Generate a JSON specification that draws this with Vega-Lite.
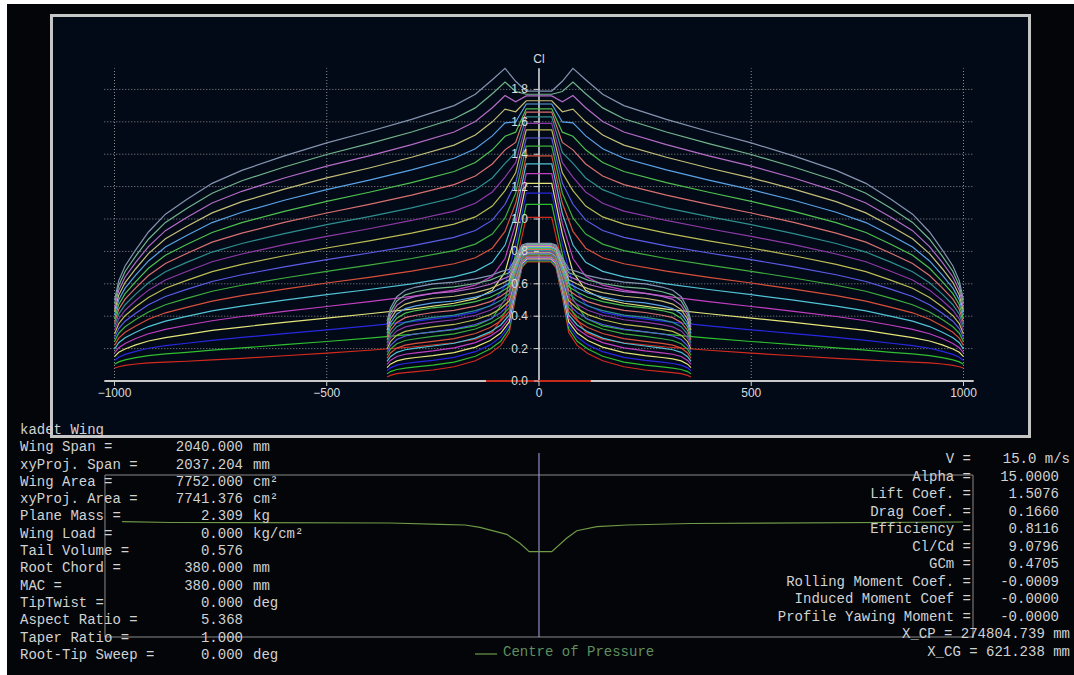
{
  "$schema": "https://vega.github.io/schema/vega-lite/v6.json",
  "width": 1067,
  "height": 671,
  "autosize": {"type": "none"},
  "padding": {"left": 7, "top": 4, "right": 0, "bottom": 0},
  "background": "#ffffff",
  "config": {"view": {"fill": "#030508", "stroke": null}},
  "datasets": {
    "wing": [
      {"x":-1000,"op0":0.08,"op1":0.103,"op2":0.127,"op3":0.15,"op4":0.173,"op5":0.197,"op6":0.22,"op7":0.243,"op8":0.267,"op9":0.29,"op10":0.313,"op11":0.337,"op12":0.36,"op13":0.383,"op14":0.407,"op15":0.43,"op16":0.453,"op17":0.477,"op18":0.5},
      {"x":-990,"op0":0.088,"op1":0.118,"op2":0.147,"op3":0.177,"op4":0.206,"op5":0.236,"op6":0.265,"op7":0.295,"op8":0.324,"op9":0.354,"op10":0.384,"op11":0.413,"op12":0.443,"op13":0.472,"op14":0.502,"op15":0.531,"op16":0.561,"op17":0.59,"op18":0.62},
      {"x":-975,"op0":0.096,"op1":0.13,"op2":0.164,"op3":0.198,"op4":0.232,"op5":0.267,"op6":0.301,"op7":0.335,"op8":0.369,"op9":0.403,"op10":0.437,"op11":0.471,"op12":0.505,"op13":0.539,"op14":0.573,"op15":0.608,"op16":0.642,"op17":0.676,"op18":0.71},
      {"x":-950,"op0":0.105,"op1":0.144,"op2":0.183,"op3":0.223,"op4":0.262,"op5":0.301,"op6":0.34,"op7":0.379,"op8":0.418,"op9":0.458,"op10":0.497,"op11":0.536,"op12":0.575,"op13":0.614,"op14":0.653,"op15":0.693,"op16":0.732,"op17":0.771,"op18":0.81},
      {"x":-920,"op0":0.112,"op1":0.157,"op2":0.202,"op3":0.247,"op4":0.292,"op5":0.336,"op6":0.381,"op7":0.426,"op8":0.471,"op9":0.516,"op10":0.561,"op11":0.606,"op12":0.651,"op13":0.696,"op14":0.741,"op15":0.786,"op16":0.83,"op17":0.875,"op18":0.92},
      {"x":-880,"op0":0.116,"op1":0.167,"op2":0.218,"op3":0.268,"op4":0.319,"op5":0.37,"op6":0.421,"op7":0.471,"op8":0.522,"op9":0.573,"op10":0.624,"op11":0.675,"op12":0.725,"op13":0.776,"op14":0.827,"op15":0.878,"op16":0.928,"op17":0.979,"op18":1.03},
      {"x":-830,"op0":0.122,"op1":0.177,"op2":0.233,"op3":0.288,"op4":0.344,"op5":0.399,"op6":0.455,"op7":0.51,"op8":0.566,"op9":0.621,"op10":0.676,"op11":0.732,"op12":0.787,"op13":0.843,"op14":0.898,"op15":0.954,"op16":1.009,"op17":1.065,"op18":1.12},
      {"x":-770,"op0":0.13,"op1":0.191,"op2":0.251,"op3":0.312,"op4":0.372,"op5":0.433,"op6":0.493,"op7":0.554,"op8":0.614,"op9":0.675,"op10":0.736,"op11":0.796,"op12":0.857,"op13":0.917,"op14":0.978,"op15":1.038,"op16":1.099,"op17":1.159,"op18":1.22},
      {"x":-700,"op0":0.14,"op1":0.204,"op2":0.269,"op3":0.333,"op4":0.398,"op5":0.462,"op6":0.527,"op7":0.591,"op8":0.656,"op9":0.72,"op10":0.784,"op11":0.849,"op12":0.913,"op13":0.978,"op14":1.042,"op15":1.107,"op16":1.171,"op17":1.236,"op18":1.3},
      {"x":-600,"op0":0.156,"op1":0.225,"op2":0.293,"op3":0.362,"op4":0.43,"op5":0.499,"op6":0.567,"op7":0.636,"op8":0.704,"op9":0.773,"op10":0.842,"op11":0.91,"op12":0.979,"op13":1.047,"op14":1.116,"op15":1.184,"op16":1.253,"op17":1.321,"op18":1.39},
      {"x":-500,"op0":0.172,"op1":0.244,"op2":0.316,"op3":0.388,"op4":0.46,"op5":0.533,"op6":0.605,"op7":0.677,"op8":0.749,"op9":0.821,"op10":0.893,"op11":0.965,"op12":1.037,"op13":1.109,"op14":1.181,"op15":1.254,"op16":1.326,"op17":1.398,"op18":1.47},
      {"x":-400,"op0":0.19,"op1":0.265,"op2":0.34,"op3":0.415,"op4":0.49,"op5":0.565,"op6":0.64,"op7":0.715,"op8":0.79,"op9":0.865,"op10":0.94,"op11":1.015,"op12":1.09,"op13":1.165,"op14":1.24,"op15":1.315,"op16":1.39,"op17":1.465,"op18":1.54},
      {"x":-300,"op0":0.21,"op1":0.288,"op2":0.366,"op3":0.444,"op4":0.522,"op5":0.6,"op6":0.678,"op7":0.756,"op8":0.834,"op9":0.913,"op10":0.991,"op11":1.069,"op12":1.147,"op13":1.225,"op14":1.303,"op15":1.381,"op16":1.459,"op17":1.537,"op18":1.615},
      {"x":-200,"op0":0.236,"op1":0.317,"op2":0.399,"op3":0.48,"op4":0.561,"op5":0.643,"op6":0.724,"op7":0.805,"op8":0.887,"op9":0.968,"op10":1.049,"op11":1.131,"op12":1.212,"op13":1.293,"op14":1.375,"op15":1.456,"op16":1.537,"op17":1.619,"op18":1.7},
      {"x":-150,"op0":0.256,"op1":0.34,"op2":0.424,"op3":0.508,"op4":0.592,"op5":0.677,"op6":0.761,"op7":0.845,"op8":0.929,"op9":1.013,"op10":1.097,"op11":1.181,"op12":1.265,"op13":1.349,"op14":1.434,"op15":1.518,"op16":1.602,"op17":1.686,"op18":1.77},
      {"x":-110,"op0":0.3,"op1":0.387,"op2":0.473,"op3":0.56,"op4":0.647,"op5":0.733,"op6":0.82,"op7":0.907,"op8":0.993,"op9":1.08,"op10":1.167,"op11":1.253,"op12":1.34,"op13":1.427,"op14":1.513,"op15":1.6,"op16":1.687,"op17":1.773,"op18":1.86},
      {"x":-80,"op0":0.42,"op1":0.504,"op2":0.588,"op3":0.672,"op4":0.756,"op5":0.839,"op6":0.923,"op7":1.007,"op8":1.091,"op9":1.175,"op10":1.259,"op11":1.343,"op12":1.427,"op13":1.511,"op14":1.594,"op15":1.678,"op16":1.762,"op17":1.846,"op18":1.93},
      {"x":-55,"op0":0.72,"op1":0.783,"op2":0.846,"op3":0.908,"op4":0.971,"op5":1.034,"op6":1.097,"op7":1.159,"op8":1.222,"op9":1.285,"op10":1.348,"op11":1.411,"op12":1.473,"op13":1.536,"op14":1.599,"op15":1.662,"op16":1.724,"op17":1.787,"op18":1.85},
      {"x":-30,"op0":1.01,"op1":1.09,"op2":1.16,"op3":1.22,"op4":1.28,"op5":1.34,"op6":1.39,"op7":1.45,"op8":1.5,"op9":1.55,"op10":1.59,"op11":1.63,"op12":1.66,"op13":1.68,"op14":1.71,"op15":1.73,"op16":1.76,"op17":1.77,"op18":1.79},
      {"x":30,"op0":1.01,"op1":1.09,"op2":1.16,"op3":1.22,"op4":1.28,"op5":1.34,"op6":1.39,"op7":1.45,"op8":1.5,"op9":1.55,"op10":1.59,"op11":1.63,"op12":1.66,"op13":1.68,"op14":1.71,"op15":1.73,"op16":1.76,"op17":1.77,"op18":1.79},
      {"x":55,"op0":0.72,"op1":0.783,"op2":0.846,"op3":0.908,"op4":0.971,"op5":1.034,"op6":1.097,"op7":1.159,"op8":1.222,"op9":1.285,"op10":1.348,"op11":1.411,"op12":1.473,"op13":1.536,"op14":1.599,"op15":1.662,"op16":1.724,"op17":1.787,"op18":1.85},
      {"x":80,"op0":0.42,"op1":0.504,"op2":0.588,"op3":0.672,"op4":0.756,"op5":0.839,"op6":0.923,"op7":1.007,"op8":1.091,"op9":1.175,"op10":1.259,"op11":1.343,"op12":1.427,"op13":1.511,"op14":1.594,"op15":1.678,"op16":1.762,"op17":1.846,"op18":1.93},
      {"x":110,"op0":0.3,"op1":0.387,"op2":0.473,"op3":0.56,"op4":0.647,"op5":0.733,"op6":0.82,"op7":0.907,"op8":0.993,"op9":1.08,"op10":1.167,"op11":1.253,"op12":1.34,"op13":1.427,"op14":1.513,"op15":1.6,"op16":1.687,"op17":1.773,"op18":1.86},
      {"x":150,"op0":0.256,"op1":0.34,"op2":0.424,"op3":0.508,"op4":0.592,"op5":0.677,"op6":0.761,"op7":0.845,"op8":0.929,"op9":1.013,"op10":1.097,"op11":1.181,"op12":1.265,"op13":1.349,"op14":1.434,"op15":1.518,"op16":1.602,"op17":1.686,"op18":1.77},
      {"x":200,"op0":0.236,"op1":0.317,"op2":0.399,"op3":0.48,"op4":0.561,"op5":0.643,"op6":0.724,"op7":0.805,"op8":0.887,"op9":0.968,"op10":1.049,"op11":1.131,"op12":1.212,"op13":1.293,"op14":1.375,"op15":1.456,"op16":1.537,"op17":1.619,"op18":1.7},
      {"x":300,"op0":0.21,"op1":0.288,"op2":0.366,"op3":0.444,"op4":0.522,"op5":0.6,"op6":0.678,"op7":0.756,"op8":0.834,"op9":0.913,"op10":0.991,"op11":1.069,"op12":1.147,"op13":1.225,"op14":1.303,"op15":1.381,"op16":1.459,"op17":1.537,"op18":1.615},
      {"x":400,"op0":0.19,"op1":0.265,"op2":0.34,"op3":0.415,"op4":0.49,"op5":0.565,"op6":0.64,"op7":0.715,"op8":0.79,"op9":0.865,"op10":0.94,"op11":1.015,"op12":1.09,"op13":1.165,"op14":1.24,"op15":1.315,"op16":1.39,"op17":1.465,"op18":1.54},
      {"x":500,"op0":0.172,"op1":0.244,"op2":0.316,"op3":0.388,"op4":0.46,"op5":0.533,"op6":0.605,"op7":0.677,"op8":0.749,"op9":0.821,"op10":0.893,"op11":0.965,"op12":1.037,"op13":1.109,"op14":1.181,"op15":1.254,"op16":1.326,"op17":1.398,"op18":1.47},
      {"x":600,"op0":0.156,"op1":0.225,"op2":0.293,"op3":0.362,"op4":0.43,"op5":0.499,"op6":0.567,"op7":0.636,"op8":0.704,"op9":0.773,"op10":0.842,"op11":0.91,"op12":0.979,"op13":1.047,"op14":1.116,"op15":1.184,"op16":1.253,"op17":1.321,"op18":1.39},
      {"x":700,"op0":0.14,"op1":0.204,"op2":0.269,"op3":0.333,"op4":0.398,"op5":0.462,"op6":0.527,"op7":0.591,"op8":0.656,"op9":0.72,"op10":0.784,"op11":0.849,"op12":0.913,"op13":0.978,"op14":1.042,"op15":1.107,"op16":1.171,"op17":1.236,"op18":1.3},
      {"x":770,"op0":0.13,"op1":0.191,"op2":0.251,"op3":0.312,"op4":0.372,"op5":0.433,"op6":0.493,"op7":0.554,"op8":0.614,"op9":0.675,"op10":0.736,"op11":0.796,"op12":0.857,"op13":0.917,"op14":0.978,"op15":1.038,"op16":1.099,"op17":1.159,"op18":1.22},
      {"x":830,"op0":0.122,"op1":0.177,"op2":0.233,"op3":0.288,"op4":0.344,"op5":0.399,"op6":0.455,"op7":0.51,"op8":0.566,"op9":0.621,"op10":0.676,"op11":0.732,"op12":0.787,"op13":0.843,"op14":0.898,"op15":0.954,"op16":1.009,"op17":1.065,"op18":1.12},
      {"x":880,"op0":0.116,"op1":0.167,"op2":0.218,"op3":0.268,"op4":0.319,"op5":0.37,"op6":0.421,"op7":0.471,"op8":0.522,"op9":0.573,"op10":0.624,"op11":0.675,"op12":0.725,"op13":0.776,"op14":0.827,"op15":0.878,"op16":0.928,"op17":0.979,"op18":1.03},
      {"x":920,"op0":0.112,"op1":0.157,"op2":0.202,"op3":0.247,"op4":0.292,"op5":0.336,"op6":0.381,"op7":0.426,"op8":0.471,"op9":0.516,"op10":0.561,"op11":0.606,"op12":0.651,"op13":0.696,"op14":0.741,"op15":0.786,"op16":0.83,"op17":0.875,"op18":0.92},
      {"x":950,"op0":0.105,"op1":0.144,"op2":0.183,"op3":0.223,"op4":0.262,"op5":0.301,"op6":0.34,"op7":0.379,"op8":0.418,"op9":0.458,"op10":0.497,"op11":0.536,"op12":0.575,"op13":0.614,"op14":0.653,"op15":0.693,"op16":0.732,"op17":0.771,"op18":0.81},
      {"x":975,"op0":0.096,"op1":0.13,"op2":0.164,"op3":0.198,"op4":0.232,"op5":0.267,"op6":0.301,"op7":0.335,"op8":0.369,"op9":0.403,"op10":0.437,"op11":0.471,"op12":0.505,"op13":0.539,"op14":0.573,"op15":0.608,"op16":0.642,"op17":0.676,"op18":0.71},
      {"x":990,"op0":0.088,"op1":0.118,"op2":0.147,"op3":0.177,"op4":0.206,"op5":0.236,"op6":0.265,"op7":0.295,"op8":0.324,"op9":0.354,"op10":0.384,"op11":0.413,"op12":0.443,"op13":0.472,"op14":0.502,"op15":0.531,"op16":0.561,"op17":0.59,"op18":0.62},
      {"x":1000,"op0":0.08,"op1":0.103,"op2":0.127,"op3":0.15,"op4":0.173,"op5":0.197,"op6":0.22,"op7":0.243,"op8":0.267,"op9":0.29,"op10":0.313,"op11":0.337,"op12":0.36,"op13":0.383,"op14":0.407,"op15":0.43,"op16":0.453,"op17":0.477,"op18":0.5}
    ],
    "tail": [
      {"x":-358,"op0":0.025,"op1":0.044,"op2":0.063,"op3":0.083,"op4":0.102,"op5":0.121,"op6":0.14,"op7":0.159,"op8":0.178,"op9":0.198,"op10":0.217,"op11":0.236,"op12":0.255,"op13":0.274,"op14":0.293,"op15":0.313,"op16":0.332,"op17":0.351,"op18":0.37},
      {"x":-350,"op0":0.035,"op1":0.058,"op2":0.081,"op3":0.104,"op4":0.127,"op5":0.15,"op6":0.173,"op7":0.196,"op8":0.219,"op9":0.243,"op10":0.266,"op11":0.289,"op12":0.312,"op13":0.335,"op14":0.358,"op15":0.381,"op16":0.404,"op17":0.427,"op18":0.45},
      {"x":-335,"op0":0.045,"op1":0.071,"op2":0.098,"op3":0.124,"op4":0.151,"op5":0.177,"op6":0.203,"op7":0.23,"op8":0.256,"op9":0.283,"op10":0.309,"op11":0.335,"op12":0.362,"op13":0.388,"op14":0.414,"op15":0.441,"op16":0.467,"op17":0.494,"op18":0.52},
      {"x":-315,"op0":0.052,"op1":0.08,"op2":0.108,"op3":0.137,"op4":0.165,"op5":0.193,"op6":0.221,"op7":0.25,"op8":0.278,"op9":0.306,"op10":0.334,"op11":0.362,"op12":0.391,"op13":0.419,"op14":0.447,"op15":0.475,"op16":0.504,"op17":0.532,"op18":0.56},
      {"x":-290,"op0":0.058,"op1":0.087,"op2":0.116,"op3":0.145,"op4":0.174,"op5":0.203,"op6":0.232,"op7":0.261,"op8":0.29,"op9":0.319,"op10":0.348,"op11":0.377,"op12":0.406,"op13":0.435,"op14":0.464,"op15":0.493,"op16":0.522,"op17":0.551,"op18":0.58},
      {"x":-250,"op0":0.068,"op1":0.098,"op2":0.127,"op3":0.157,"op4":0.186,"op5":0.216,"op6":0.245,"op7":0.275,"op8":0.304,"op9":0.334,"op10":0.364,"op11":0.393,"op12":0.423,"op13":0.452,"op14":0.482,"op15":0.511,"op16":0.541,"op17":0.57,"op18":0.6},
      {"x":-200,"op0":0.088,"op1":0.117,"op2":0.146,"op3":0.175,"op4":0.204,"op5":0.233,"op6":0.262,"op7":0.291,"op8":0.32,"op9":0.349,"op10":0.378,"op11":0.407,"op12":0.436,"op13":0.465,"op14":0.494,"op15":0.523,"op16":0.552,"op17":0.581,"op18":0.61},
      {"x":-150,"op0":0.125,"op1":0.153,"op2":0.181,"op3":0.209,"op4":0.237,"op5":0.265,"op6":0.293,"op7":0.321,"op8":0.349,"op9":0.378,"op10":0.406,"op11":0.434,"op12":0.462,"op13":0.49,"op14":0.518,"op15":0.546,"op16":0.574,"op17":0.602,"op18":0.63},
      {"x":-115,"op0":0.17,"op1":0.197,"op2":0.223,"op3":0.25,"op4":0.277,"op5":0.303,"op6":0.33,"op7":0.357,"op8":0.383,"op9":0.41,"op10":0.437,"op11":0.463,"op12":0.49,"op13":0.517,"op14":0.543,"op15":0.57,"op16":0.597,"op17":0.623,"op18":0.65},
      {"x":-90,"op0":0.22,"op1":0.245,"op2":0.271,"op3":0.296,"op4":0.321,"op5":0.346,"op6":0.372,"op7":0.397,"op8":0.422,"op9":0.448,"op10":0.473,"op11":0.498,"op12":0.523,"op13":0.549,"op14":0.574,"op15":0.599,"op16":0.624,"op17":0.65,"op18":0.675},
      {"x":-70,"op0":0.3,"op1":0.322,"op2":0.343,"op3":0.365,"op4":0.387,"op5":0.408,"op6":0.43,"op7":0.452,"op8":0.473,"op9":0.495,"op10":0.517,"op11":0.538,"op12":0.56,"op13":0.582,"op14":0.603,"op15":0.625,"op16":0.647,"op17":0.668,"op18":0.69},
      {"x":-55,"op0":0.52,"op1":0.533,"op2":0.547,"op3":0.56,"op4":0.573,"op5":0.587,"op6":0.6,"op7":0.613,"op8":0.627,"op9":0.64,"op10":0.653,"op11":0.667,"op12":0.68,"op13":0.693,"op14":0.707,"op15":0.72,"op16":0.733,"op17":0.747,"op18":0.76},
      {"x":-40,"op0":0.7,"op1":0.708,"op2":0.716,"op3":0.723,"op4":0.731,"op5":0.739,"op6":0.747,"op7":0.754,"op8":0.762,"op9":0.77,"op10":0.778,"op11":0.786,"op12":0.793,"op13":0.801,"op14":0.809,"op15":0.817,"op16":0.824,"op17":0.832,"op18":0.84},
      {"x":-28,"op0":0.735,"op1":0.741,"op2":0.748,"op3":0.754,"op4":0.761,"op5":0.767,"op6":0.773,"op7":0.78,"op8":0.786,"op9":0.793,"op10":0.799,"op11":0.805,"op12":0.812,"op13":0.818,"op14":0.825,"op15":0.831,"op16":0.837,"op17":0.844,"op18":0.85},
      {"x":28,"op0":0.735,"op1":0.741,"op2":0.748,"op3":0.754,"op4":0.761,"op5":0.767,"op6":0.773,"op7":0.78,"op8":0.786,"op9":0.793,"op10":0.799,"op11":0.805,"op12":0.812,"op13":0.818,"op14":0.825,"op15":0.831,"op16":0.837,"op17":0.844,"op18":0.85},
      {"x":40,"op0":0.7,"op1":0.708,"op2":0.716,"op3":0.723,"op4":0.731,"op5":0.739,"op6":0.747,"op7":0.754,"op8":0.762,"op9":0.77,"op10":0.778,"op11":0.786,"op12":0.793,"op13":0.801,"op14":0.809,"op15":0.817,"op16":0.824,"op17":0.832,"op18":0.84},
      {"x":55,"op0":0.52,"op1":0.533,"op2":0.547,"op3":0.56,"op4":0.573,"op5":0.587,"op6":0.6,"op7":0.613,"op8":0.627,"op9":0.64,"op10":0.653,"op11":0.667,"op12":0.68,"op13":0.693,"op14":0.707,"op15":0.72,"op16":0.733,"op17":0.747,"op18":0.76},
      {"x":70,"op0":0.3,"op1":0.322,"op2":0.343,"op3":0.365,"op4":0.387,"op5":0.408,"op6":0.43,"op7":0.452,"op8":0.473,"op9":0.495,"op10":0.517,"op11":0.538,"op12":0.56,"op13":0.582,"op14":0.603,"op15":0.625,"op16":0.647,"op17":0.668,"op18":0.69},
      {"x":90,"op0":0.22,"op1":0.245,"op2":0.271,"op3":0.296,"op4":0.321,"op5":0.346,"op6":0.372,"op7":0.397,"op8":0.422,"op9":0.448,"op10":0.473,"op11":0.498,"op12":0.523,"op13":0.549,"op14":0.574,"op15":0.599,"op16":0.624,"op17":0.65,"op18":0.675},
      {"x":115,"op0":0.17,"op1":0.197,"op2":0.223,"op3":0.25,"op4":0.277,"op5":0.303,"op6":0.33,"op7":0.357,"op8":0.383,"op9":0.41,"op10":0.437,"op11":0.463,"op12":0.49,"op13":0.517,"op14":0.543,"op15":0.57,"op16":0.597,"op17":0.623,"op18":0.65},
      {"x":150,"op0":0.125,"op1":0.153,"op2":0.181,"op3":0.209,"op4":0.237,"op5":0.265,"op6":0.293,"op7":0.321,"op8":0.349,"op9":0.378,"op10":0.406,"op11":0.434,"op12":0.462,"op13":0.49,"op14":0.518,"op15":0.546,"op16":0.574,"op17":0.602,"op18":0.63},
      {"x":200,"op0":0.088,"op1":0.117,"op2":0.146,"op3":0.175,"op4":0.204,"op5":0.233,"op6":0.262,"op7":0.291,"op8":0.32,"op9":0.349,"op10":0.378,"op11":0.407,"op12":0.436,"op13":0.465,"op14":0.494,"op15":0.523,"op16":0.552,"op17":0.581,"op18":0.61},
      {"x":250,"op0":0.068,"op1":0.098,"op2":0.127,"op3":0.157,"op4":0.186,"op5":0.216,"op6":0.245,"op7":0.275,"op8":0.304,"op9":0.334,"op10":0.364,"op11":0.393,"op12":0.423,"op13":0.452,"op14":0.482,"op15":0.511,"op16":0.541,"op17":0.57,"op18":0.6},
      {"x":290,"op0":0.058,"op1":0.087,"op2":0.116,"op3":0.145,"op4":0.174,"op5":0.203,"op6":0.232,"op7":0.261,"op8":0.29,"op9":0.319,"op10":0.348,"op11":0.377,"op12":0.406,"op13":0.435,"op14":0.464,"op15":0.493,"op16":0.522,"op17":0.551,"op18":0.58},
      {"x":315,"op0":0.052,"op1":0.08,"op2":0.108,"op3":0.137,"op4":0.165,"op5":0.193,"op6":0.221,"op7":0.25,"op8":0.278,"op9":0.306,"op10":0.334,"op11":0.362,"op12":0.391,"op13":0.419,"op14":0.447,"op15":0.475,"op16":0.504,"op17":0.532,"op18":0.56},
      {"x":335,"op0":0.045,"op1":0.071,"op2":0.098,"op3":0.124,"op4":0.151,"op5":0.177,"op6":0.203,"op7":0.23,"op8":0.256,"op9":0.283,"op10":0.309,"op11":0.335,"op12":0.362,"op13":0.388,"op14":0.414,"op15":0.441,"op16":0.467,"op17":0.494,"op18":0.52},
      {"x":350,"op0":0.035,"op1":0.058,"op2":0.081,"op3":0.104,"op4":0.127,"op5":0.15,"op6":0.173,"op7":0.196,"op8":0.219,"op9":0.243,"op10":0.266,"op11":0.289,"op12":0.312,"op13":0.335,"op14":0.358,"op15":0.381,"op16":0.404,"op17":0.427,"op18":0.45},
      {"x":358,"op0":0.025,"op1":0.044,"op2":0.063,"op3":0.083,"op4":0.102,"op5":0.121,"op6":0.14,"op7":0.159,"op8":0.178,"op9":0.198,"op10":0.217,"op11":0.236,"op12":0.255,"op13":0.274,"op14":0.293,"op15":0.313,"op16":0.332,"op17":0.351,"op18":0.37}
    ],
    "fin": [{"x": -125, "cl": 0}, {"x": 122, "cl": 0}],
    "hgrid": [{"cl": 0.2}, {"cl": 0.4}, {"cl": 0.6}, {"cl": 0.8}, {"cl": 1.0}, {"cl": 1.2}, {"cl": 1.4}, {"cl": 1.6}, {"cl": 1.8}],
    "vgrid": [{"x": -1000}, {"x": -500}, {"x": 500}, {"x": 1000}],
    "yticks": [{"cl": 0}, {"cl": 0.2}, {"cl": 0.4}, {"cl": 0.6}, {"cl": 0.8}, {"cl": 1.0}, {"cl": 1.2}, {"cl": 1.4}, {"cl": 1.6}, {"cl": 1.8}],
    "xticks": [{"x": -1000}, {"x": -500}, {"x": 0}, {"x": 500}, {"x": 1000}],
    "cop": [
      {"x": -982, "xcp": 93.4}, {"x": -865, "xcp": 95}, {"x": -351, "xcp": 96}, {"x": -233, "xcp": 98.6},
      {"x": -174, "xcp": 100}, {"x": -139, "xcp": 104.6}, {"x": -76, "xcp": 118.6}, {"x": -45, "xcp": 136.6},
      {"x": -23, "xcp": 153.4}, {"x": 30, "xcp": 153.4}, {"x": 65, "xcp": 126.6}, {"x": 89, "xcp": 111.4},
      {"x": 136, "xcp": 103.4}, {"x": 207, "xcp": 100}, {"x": 356, "xcp": 97}, {"x": 999, "xcp": 94}
    ],
    "wingInfo": [
      {"row": 0, "label": "kadet Wing", "value": "", "unit": ""},
      {"row": 1, "label": "Wing Span =", "value": "2040.000", "unit": "mm"},
      {"row": 2, "label": "xyProj. Span =", "value": "2037.204", "unit": "mm"},
      {"row": 3, "label": "Wing Area =", "value": "7752.000", "unit": "cm²"},
      {"row": 4, "label": "xyProj. Area =", "value": "7741.376", "unit": "cm²"},
      {"row": 5, "label": "Plane Mass =", "value": "2.309", "unit": "kg"},
      {"row": 6, "label": "Wing Load =", "value": "0.000", "unit": "kg/cm²"},
      {"row": 7, "label": "Tail Volume =", "value": "0.576", "unit": ""},
      {"row": 8, "label": "Root Chord =", "value": "380.000", "unit": "mm"},
      {"row": 9, "label": "MAC =", "value": "380.000", "unit": "mm"},
      {"row": 10, "label": "TipTwist =", "value": "0.000", "unit": "deg"},
      {"row": 11, "label": "Aspect Ratio =", "value": "5.368", "unit": ""},
      {"row": 12, "label": "Taper Ratio =", "value": "1.000", "unit": ""},
      {"row": 13, "label": "Root-Tip Sweep =", "value": "0.000", "unit": "deg"}
    ],
    "polarInfo": [
      {"row": 0, "label": "V =", "value": "", "full": "15.0 m/s"},
      {"row": 1, "label": "Alpha =", "value": "15.0000", "full": ""},
      {"row": 2, "label": "Lift Coef. =", "value": "1.5076", "full": ""},
      {"row": 3, "label": "Drag Coef. =", "value": "0.1660", "full": ""},
      {"row": 4, "label": "Efficiency =", "value": "0.8116", "full": ""},
      {"row": 5, "label": "Cl/Cd =", "value": "9.0796", "full": ""},
      {"row": 6, "label": "GCm =", "value": "0.4705", "full": ""},
      {"row": 7, "label": "Rolling Moment Coef. =", "value": "-0.0009", "full": ""},
      {"row": 8, "label": "Induced Moment Coef =", "value": "-0.0000", "full": ""},
      {"row": 9, "label": "Profile Yawing Moment =", "value": "-0.0000", "full": ""},
      {"row": 10, "label": "", "value": "", "full": "X_CP = 274804.739 mm"},
      {"row": 11, "label": "", "value": "", "full": "X_CG = 621.238 mm"}
    ]
  },
  "resolve": {"scale": {"x": "independent", "y": "independent", "color": "independent"}},
  "layer": [
    {
      "layer": [
        {
          "data": {"values": [{}]},
          "mark": {"type": "rect", "fill": "#030a17", "stroke": "#c6c6c6", "strokeWidth": 3},
          "encoding": {
            "x": {"datum": -1148.4, "type": "quantitative", "scale": {"domain": [-1253.2, 1260.3], "nice": false, "zero": false}, "axis": null},
            "x2": {"datum": 1155.5},
            "y": {"datum": 2.256, "type": "quantitative", "scale": {"domain": [-1.8148, 2.3272], "nice": false, "zero": false}, "axis": null},
            "y2": {"datum": -0.3426}
          }
        },
        {
          "data": {"name": "hgrid"},
          "mark": {"type": "rule", "color": "#8e8e8e", "strokeDash": [1, 2], "strokeWidth": 1},
          "encoding": {
            "x": {"datum": -1024, "type": "quantitative", "scale": {"domain": [-1253.2, 1260.3], "nice": false, "zero": false}, "axis": null},
            "x2": {"datum": 1024},
            "y": {"field": "cl", "type": "quantitative", "scale": {"domain": [-1.8148, 2.3272], "nice": false, "zero": false}, "axis": null}
          }
        },
        {
          "data": {"name": "vgrid"},
          "mark": {"type": "rule", "color": "#8e8e8e", "strokeDash": [1, 2], "strokeWidth": 1},
          "encoding": {
            "x": {"field": "x", "type": "quantitative", "scale": {"domain": [-1253.2, 1260.3], "nice": false, "zero": false}, "axis": null},
            "y": {"datum": 0, "type": "quantitative", "scale": {"domain": [-1.8148, 2.3272], "nice": false, "zero": false}, "axis": null},
            "y2": {"datum": 1.93}
          }
        },
        {
          "data": {"values": [{}]},
          "mark": {"type": "rule", "color": "#c8c8c8", "strokeWidth": 2},
          "encoding": {
            "x": {"datum": -1024, "type": "quantitative", "scale": {"domain": [-1253.2, 1260.3], "nice": false, "zero": false}, "axis": null},
            "x2": {"datum": 1024},
            "y": {"datum": 0, "type": "quantitative", "scale": {"domain": [-1.8148, 2.3272], "nice": false, "zero": false}, "axis": null}
          }
        },
        {
          "data": {"values": [{}]},
          "mark": {"type": "rule", "color": "#e2e2e2", "strokeWidth": 1.5},
          "encoding": {
            "x": {"datum": 0, "type": "quantitative", "scale": {"domain": [-1253.2, 1260.3], "nice": false, "zero": false}, "axis": null},
            "y": {"datum": 0, "type": "quantitative", "scale": {"domain": [-1.8148, 2.3272], "nice": false, "zero": false}, "axis": null},
            "y2": {"datum": 1.93}
          }
        },
        {
          "data": {"name": "wing"},
          "transform": [{"fold": ["op0","op1","op2","op3","op4","op5","op6","op7","op8","op9","op10","op11","op12","op13","op14","op15","op16","op17","op18"], "as": ["op", "cl"]}],
          "mark": {"type": "line", "strokeWidth": 1.2},
          "encoding": {
            "x": {"field": "x", "type": "quantitative", "scale": {"domain": [-1253.2, 1260.3], "nice": false, "zero": false}, "axis": null},
            "y": {"field": "cl", "type": "quantitative", "scale": {"domain": [-1.8148, 2.3272], "nice": false, "zero": false}, "axis": null},
            "color": {"field": "op", "type": "nominal", "legend": null,
                      "scale": {"domain": ["op0","op1","op2","op3","op4","op5","op6","op7","op8","op9","op10","op11","op12","op13","op14","op15","op16","op17","op18"],
                                "range": ["#d42a1e","#2fbf2f","#2828e0","#e4e47a","#c23fc2","#52c3d6","#d8503c","#3fae3f","#5c5ce8","#bcbc55","#8e3aa6","#2f8f8f","#d87070","#50c050","#5aa2e6","#c4bd78","#b46cc6","#72b48c","#8494b0"]}}
          }
        },
        {
          "data": {"name": "tail"},
          "transform": [{"fold": ["op0","op1","op2","op3","op4","op5","op6","op7","op8","op9","op10","op11","op12","op13","op14","op15","op16","op17","op18"], "as": ["op", "cl"]}],
          "mark": {"type": "line", "strokeWidth": 1.2},
          "encoding": {
            "x": {"field": "x", "type": "quantitative", "scale": {"domain": [-1253.2, 1260.3], "nice": false, "zero": false}, "axis": null},
            "y": {"field": "cl", "type": "quantitative", "scale": {"domain": [-1.8148, 2.3272], "nice": false, "zero": false}, "axis": null},
            "color": {"field": "op", "type": "nominal", "legend": null}
          }
        },
        {
          "data": {"name": "fin"},
          "mark": {"type": "line", "color": "#c42a1a", "strokeWidth": 2},
          "encoding": {
            "x": {"field": "x", "type": "quantitative", "scale": {"domain": [-1253.2, 1260.3], "nice": false, "zero": false}, "axis": null},
            "y": {"field": "cl", "type": "quantitative", "scale": {"domain": [-1.8148, 2.3272], "nice": false, "zero": false}, "axis": null}
          }
        },
        {
          "data": {"name": "yticks"},
          "mark": {"type": "rule", "color": "#d0d0d0", "strokeWidth": 1},
          "encoding": {
            "x": {"datum": -11.8, "type": "quantitative", "scale": {"domain": [-1253.2, 1260.3], "nice": false, "zero": false}, "axis": null},
            "x2": {"datum": 0},
            "y": {"field": "cl", "type": "quantitative", "scale": {"domain": [-1.8148, 2.3272], "nice": false, "zero": false}, "axis": null}
          }
        },
        {
          "data": {"name": "yticks"},
          "mark": {"type": "text", "align": "right", "baseline": "middle", "dx": -11, "font": "Liberation Sans", "fontSize": 12, "color": "#dcdcdc"},
          "encoding": {
            "x": {"datum": 0, "type": "quantitative", "scale": {"domain": [-1253.2, 1260.3], "nice": false, "zero": false}, "axis": null},
            "y": {"field": "cl", "type": "quantitative", "scale": {"domain": [-1.8148, 2.3272], "nice": false, "zero": false}, "axis": null},
            "text": {"field": "cl", "type": "quantitative", "format": ".1f"}
          }
        },
        {
          "data": {"name": "xticks"},
          "mark": {"type": "rule", "color": "#d0d0d0", "strokeWidth": 1},
          "encoding": {
            "x": {"field": "x", "type": "quantitative", "scale": {"domain": [-1253.2, 1260.3], "nice": false, "zero": false}, "axis": null},
            "y": {"datum": 0, "type": "quantitative", "scale": {"domain": [-1.8148, 2.3272], "nice": false, "zero": false}, "axis": null},
            "y2": {"datum": -0.031}
          }
        },
        {
          "data": {"name": "xticks"},
          "mark": {"type": "text", "align": "center", "baseline": "middle", "dy": 12, "font": "Liberation Sans", "fontSize": 12, "color": "#dcdcdc"},
          "encoding": {
            "x": {"field": "x", "type": "quantitative", "scale": {"domain": [-1253.2, 1260.3], "nice": false, "zero": false}, "axis": null},
            "y": {"datum": 0, "type": "quantitative", "scale": {"domain": [-1.8148, 2.3272], "nice": false, "zero": false}, "axis": null},
            "text": {"field": "x", "type": "quantitative", "format": "d"}
          }
        },
        {
          "data": {"values": [{}]},
          "mark": {"type": "text", "text": "Cl", "font": "Liberation Sans", "fontSize": 12, "color": "#dcdcdc", "align": "center", "baseline": "middle"},
          "encoding": {
            "x": {"datum": 0, "type": "quantitative", "scale": {"domain": [-1253.2, 1260.3], "nice": false, "zero": false}, "axis": null},
            "y": {"datum": 1.988, "type": "quantitative", "scale": {"domain": [-1.8148, 2.3272], "nice": false, "zero": false}, "axis": null}
          }
        }
      ]
    },
    {
      "layer": [
        {
          "data": {"values": [{}]},
          "mark": {"type": "rect", "filled": false, "stroke": "#8a8a8a", "strokeWidth": 1},
          "encoding": {
            "x": {"datum": -1022.4, "type": "quantitative", "scale": {"domain": [-1253.2, 1260.3], "nice": false, "zero": false}, "axis": null},
            "x2": {"datum": 1022.4},
            "y": {"datum": 0, "type": "quantitative", "scale": {"domain": [-942, 400], "reverse": true, "nice": false, "zero": false}, "axis": null},
            "y2": {"datum": 324}
          }
        },
        {
          "data": {"values": [{}]},
          "mark": {"type": "rule", "color": "#a6a6ee", "strokeWidth": 1},
          "encoding": {
            "x": {"datum": 0, "type": "quantitative", "scale": {"domain": [-1253.2, 1260.3], "nice": false, "zero": false}, "axis": null},
            "y": {"datum": -44, "type": "quantitative", "scale": {"domain": [-942, 400], "reverse": true, "nice": false, "zero": false}, "axis": null},
            "y2": {"datum": 324}
          }
        },
        {
          "data": {"name": "cop"},
          "mark": {"type": "line", "color": "#6f9a48", "strokeWidth": 1.2},
          "encoding": {
            "x": {"field": "x", "type": "quantitative", "scale": {"domain": [-1253.2, 1260.3], "nice": false, "zero": false}, "axis": null},
            "y": {"field": "xcp", "type": "quantitative", "scale": {"domain": [-942, 400], "reverse": true, "nice": false, "zero": false}, "axis": null}
          }
        },
        {
          "data": {"values": [{}]},
          "mark": {"type": "rule", "color": "#6f9a48", "strokeWidth": 1.2},
          "encoding": {
            "x": {"datum": -150.8, "type": "quantitative", "scale": {"domain": [-1253.2, 1260.3], "nice": false, "zero": false}, "axis": null},
            "x2": {"datum": -98.9},
            "y": {"datum": 358, "type": "quantitative", "scale": {"domain": [-942, 400], "reverse": true, "nice": false, "zero": false}, "axis": null}
          }
        },
        {
          "data": {"values": [{}]},
          "mark": {"type": "text", "text": "Centre of Pressure", "font": "'Courier New', 'Liberation Mono', monospace", "fontSize": 14, "color": "#5f8f5f", "align": "left", "baseline": "middle"},
          "encoding": {
            "x": {"datum": -84.8, "type": "quantitative", "scale": {"domain": [-1253.2, 1260.3], "nice": false, "zero": false}, "axis": null},
            "y": {"datum": 354, "type": "quantitative", "scale": {"domain": [-942, 400], "reverse": true, "nice": false, "zero": false}, "axis": null}
          }
        }
      ]
    },
    {
      "data": {"name": "wingInfo"},
      "layer": [
        {
          "mark": {"type": "text", "align": "left", "baseline": "middle", "font": "'Courier New', 'Liberation Mono', monospace", "fontSize": 14, "color": "#d2d2d2"},
          "encoding": {
            "x": {"datum": -1222.6, "type": "quantitative", "scale": {"domain": [-1253.2, 1260.3], "nice": false, "zero": false}, "axis": null},
            "y": {"field": "row", "type": "quantitative", "scale": {"domain": [-24.624, 14.162], "reverse": true, "nice": false, "zero": false}, "axis": null},
            "text": {"field": "label"}
          }
        },
        {
          "mark": {"type": "text", "align": "right", "baseline": "middle", "font": "'Courier New', 'Liberation Mono', monospace", "fontSize": 14, "color": "#d2d2d2"},
          "encoding": {
            "x": {"datum": -697.3, "type": "quantitative", "scale": {"domain": [-1253.2, 1260.3], "nice": false, "zero": false}, "axis": null},
            "y": {"field": "row", "type": "quantitative", "scale": {"domain": [-24.624, 14.162], "reverse": true, "nice": false, "zero": false}, "axis": null},
            "text": {"field": "value"}
          }
        },
        {
          "mark": {"type": "text", "align": "left", "baseline": "middle", "font": "'Courier New', 'Liberation Mono', monospace", "fontSize": 14, "color": "#d2d2d2"},
          "encoding": {
            "x": {"datum": -673.7, "type": "quantitative", "scale": {"domain": [-1253.2, 1260.3], "nice": false, "zero": false}, "axis": null},
            "y": {"field": "row", "type": "quantitative", "scale": {"domain": [-24.624, 14.162], "reverse": true, "nice": false, "zero": false}, "axis": null},
            "text": {"field": "unit"}
          }
        }
      ]
    },
    {
      "data": {"name": "polarInfo"},
      "layer": [
        {
          "mark": {"type": "text", "align": "right", "baseline": "middle", "font": "'Courier New', 'Liberation Mono', monospace", "fontSize": 14, "color": "#d2d2d2"},
          "encoding": {
            "x": {"datum": 1017.7, "type": "quantitative", "scale": {"domain": [-1253.2, 1260.3], "nice": false, "zero": false}, "axis": null},
            "y": {"field": "row", "type": "quantitative", "scale": {"domain": [-25.933, 12.311], "reverse": true, "nice": false, "zero": false}, "axis": null},
            "text": {"field": "label"}
          }
        },
        {
          "mark": {"type": "text", "align": "right", "baseline": "middle", "font": "'Courier New', 'Liberation Mono', monospace", "fontSize": 14, "color": "#d2d2d2"},
          "encoding": {
            "x": {"datum": 1225, "type": "quantitative", "scale": {"domain": [-1253.2, 1260.3], "nice": false, "zero": false}, "axis": null},
            "y": {"field": "row", "type": "quantitative", "scale": {"domain": [-25.933, 12.311], "reverse": true, "nice": false, "zero": false}, "axis": null},
            "text": {"field": "value"}
          }
        },
        {
          "mark": {"type": "text", "align": "right", "baseline": "middle", "font": "'Courier New', 'Liberation Mono', monospace", "fontSize": 14, "color": "#d2d2d2"},
          "encoding": {
            "x": {"datum": 1250.9, "type": "quantitative", "scale": {"domain": [-1253.2, 1260.3], "nice": false, "zero": false}, "axis": null},
            "y": {"field": "row", "type": "quantitative", "scale": {"domain": [-25.933, 12.311], "reverse": true, "nice": false, "zero": false}, "axis": null},
            "text": {"field": "full"}
          }
        }
      ]
    }
  ]
}
